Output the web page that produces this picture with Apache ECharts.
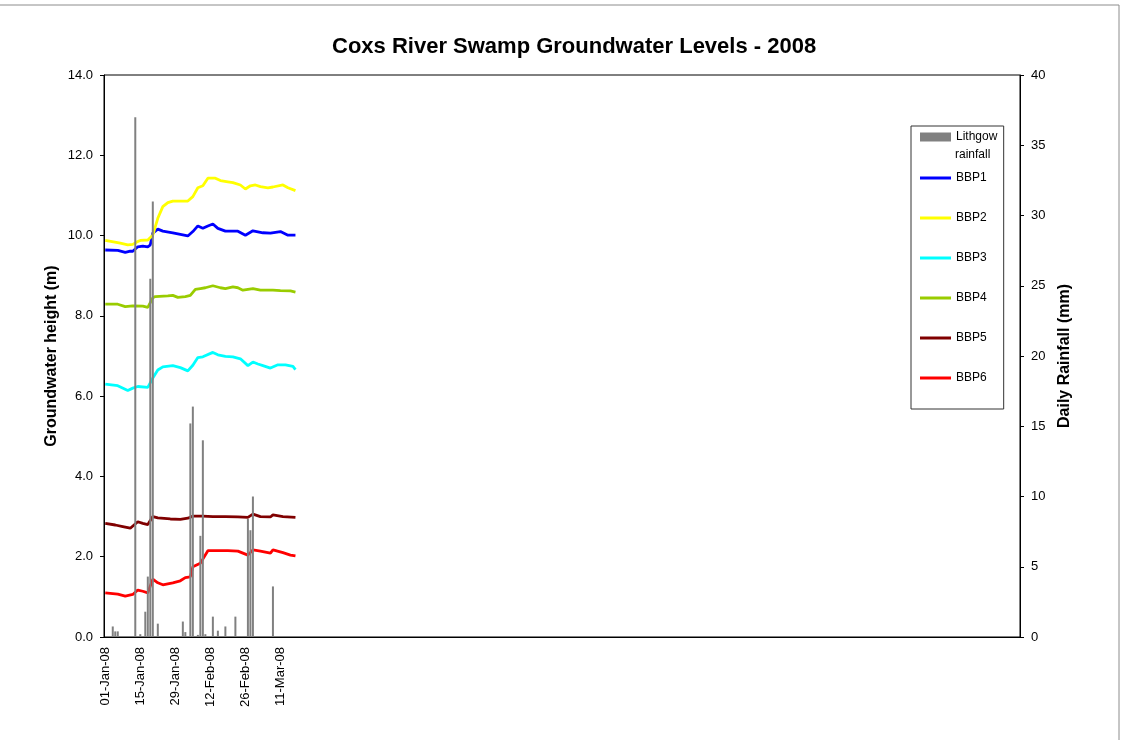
<!DOCTYPE html>
<html>
<head>
<meta charset="utf-8">
<script src="https://cdn.jsdelivr.net/npm/echarts@6/dist/echarts.min.js"></script>
<style>
html,body{margin:0;padding:0;background:#fff;}
#c{width:1123px;height:740px;}
</style>
</head>
<body>
<div id="c"></div>
<script>
// ---- DATA ----
// day offsets from 01-Jan-2008 and values
const xTickLabels = ['01-Jan-08','15-Jan-08','29-Jan-08','12-Feb-08','26-Feb-08','11-Mar-08'];

const rainDays = [3,4,5,12,14,16,17,18,19,21,31,32,34,35,37,38,39,40,43,45,48,52,57,58,59,67];
const rainMm   = [0.75,0.4,0.4,37.0,0.2,1.8,4.3,25.5,31.0,0.95,1.1,0.35,15.2,16.4,0.15,7.2,14.0,0.2,1.45,0.45,0.75,1.45,8.4,7.6,10.0,3.6];

const BBP1 = [[0,9.64],[5,9.63],[8,9.58],[10,9.61],[11,9.61],[13,9.72],[15,9.74],[17,9.72],[18,9.77],[19,10.06],[21,10.16],[23,10.11],[27,10.07],[30,10.03],[33,9.99],[35,10.10],[37,10.24],[39,10.18],[41,10.24],[43,10.29],[45,10.18],[48,10.11],[53,10.11],[56,10.01],[59,10.12],[63,10.07],[66,10.06],[70,10.10],[73,10.01],[76,10.01]];
const BBP2 = [[0,9.88],[6,9.81],[9,9.77],[11,9.78],[13,9.85],[14,9.88],[17,9.89],[19,10.01],[21,10.43],[23,10.72],[25,10.82],[27,10.86],[33,10.86],[35,10.97],[37,11.19],[39,11.24],[41,11.43],[44,11.43],[46,11.37],[49,11.34],[51,11.32],[54,11.26],[56,11.16],[58,11.24],[60,11.26],[62,11.22],[65,11.19],[67,11.21],[71,11.26],[73,11.19],[76,11.12]];
const BBP3 = [[0,6.30],[5,6.26],[9,6.14],[11,6.20],[13,6.24],[17,6.22],[19,6.45],[21,6.65],[23,6.73],[27,6.76],[30,6.71],[33,6.63],[35,6.77],[37,6.96],[39,6.98],[43,7.09],[45,7.03],[48,6.99],[51,6.98],[54,6.93],[57,6.76],[59,6.85],[61,6.80],[63,6.76],[66,6.70],[69,6.78],[72,6.78],[75,6.74],[76,6.66]];
const BBP4 = [[0,8.29],[5,8.29],[8,8.23],[11,8.25],[15,8.24],[17,8.21],[19,8.45],[20,8.48],[25,8.50],[27,8.51],[29,8.46],[32,8.48],[34,8.51],[36,8.66],[38,8.68],[40,8.70],[43,8.75],[46,8.70],[48,8.68],[51,8.72],[53,8.70],[55,8.64],[59,8.68],[62,8.64],[67,8.64],[70,8.63],[74,8.62],[76,8.59]];
const BBP5 = [[0,2.83],[4,2.79],[7,2.75],[10,2.71],[13,2.87],[15,2.83],[17,2.80],[19,3.00],[21,2.97],[26,2.94],[30,2.93],[33,2.96],[35,3.01],[39,3.01],[43,3.00],[48,3.00],[53,2.99],[57,2.98],[59,3.06],[62,3.00],[66,2.99],[67,3.04],[71,3.00],[76,2.98]];
const BBP6 = [[0,1.10],[5,1.07],[8,1.02],[11,1.06],[13,1.17],[15,1.14],[17,1.10],[19,1.44],[21,1.35],[23,1.30],[27,1.35],[30,1.40],[32,1.48],[34,1.50],[35,1.75],[38,1.84],[39,1.94],[41,2.15],[44,2.15],[49,2.15],[53,2.14],[57,2.04],[59,2.17],[62,2.14],[66,2.09],[67,2.17],[71,2.10],[74,2.04],[76,2.02]];

// ---- build categories (every day of 2008) ----
const MON = ['Jan','Feb','Mar','Apr','May','Jun','Jul','Aug','Sep','Oct','Nov','Dec'];
const cats = [];
for (let d = new Date(Date.UTC(2008,0,1)); d.getUTCFullYear() === 2008; d.setUTCDate(d.getUTCDate()+1)) {
  const dd = String(d.getUTCDate()).padStart(2,'0');
  cats.push(dd + '-' + MON[d.getUTCMonth()] + '-08');
}
const rainData = cats.map(() => 0);
rainDays.forEach((d, i) => { rainData[d] = rainMm[i]; });
const toPairs = arr => arr.map(p => [cats[p[0]], p[1]]);

const NARROW = "'Liberation Sans Narrow','Arial Narrow','Liberation Sans',Arial,sans-serif";
const SANS = "'Liberation Sans',Arial,sans-serif";

const lineSeries = (name, data, color) => ({
  name, type: 'line', data: toPairs(data), yAxisIndex: 0,
  symbol: 'none', showSymbol: false, z: 2,
  lineStyle: { color, width: 2.8 }, itemStyle: { color },
  animation: false
});

const chart = echarts.init(document.getElementById('c'), null, { renderer: 'canvas' });
chart.setOption({
  animation: false,
  backgroundColor: '#fff',
  title: {
    text: 'Coxs River Swamp Groundwater Levels - 2008',
    left: 332, top: 36, padding: 0,
    textStyle: { fontFamily: NARROW, fontSize: 22, fontWeight: 'bold', color: '#000' }
  },
  grid: { left: 104, right: 103, top: 75, bottom: 103, show: true, borderColor: '#000', borderWidth: 1, backgroundColor: 'transparent' },
  graphic: [
    { type: 'rect', silent: true, z: -10, shape: { x: -2, y: 5, width: 1121, height: 800 },
      style: { fill: 'none', stroke: '#8c8c8c', lineWidth: 1 } },
    { type: 'text', silent: true, z: 100, x: 955, y: 155,
      style: { text: 'rainfall', fill: '#000', font: "12px " + NARROW, verticalAlign: 'middle', align: 'left' } }
  ],
  legend: [
    {
      data: ['Lithgow rainfall'], orient: 'vertical', left: 920, top: 130, padding: 0, z: 5,
      itemWidth: 31, itemHeight: 9, icon: 'rect',
      formatter: () => 'Lithgow',
      textStyle: { fontFamily: NARROW, fontSize: 12, color: '#000', lineHeight: 14 }
    },
    {
      data: ['BBP1','BBP2','BBP3','BBP4','BBP5','BBP6'], orient: 'vertical', left: 911, top: 126,
      padding: [45, 17, 24, 9], itemGap: 26, itemWidth: 31, itemHeight: 3, icon: 'rect', z: 4,
      backgroundColor: '#fff', borderColor: '#333', borderWidth: 1,
      textStyle: { fontFamily: NARROW, fontSize: 12, color: '#000', lineHeight: 14 }
    }
  ],
  xAxis: {
    type: 'category', data: cats, boundaryGap: true,
    axisLine: { lineStyle: { color: '#000', width: 1 } },
    axisTick: { show: false },
    axisLabel: {
      rotate: 90, margin: 10, fontFamily: SANS, fontSize: 13, color: '#000',
      interval: (i, v) => xTickLabels.indexOf(v) >= 0
    },
    splitLine: { show: false }
  },
  yAxis: [
    {
      type: 'value', min: 0, max: 14, interval: 2, position: 'left',
      name: 'Groundwater height (m)', nameLocation: 'middle', nameGap: 44, nameRotate: 90, nameMoveOverlap: false,
      nameTextStyle: { fontFamily: SANS, fontSize: 16, fontWeight: 'bold', color: '#000' },
      axisLine: { show: true, lineStyle: { color: '#000' } },
      axisTick: { show: true, length: 4, lineStyle: { color: '#000' } },
      axisLabel: { fontFamily: SANS, fontSize: 13, color: '#000', margin: 11, formatter: v => v.toFixed(1) },
      splitLine: { show: false }
    },
    {
      type: 'value', min: 0, max: 40, interval: 5, position: 'right',
      name: 'Daily Rainfall (mm)', nameLocation: 'middle', nameGap: 37, nameRotate: 90, nameMoveOverlap: false,
      nameTextStyle: { fontFamily: SANS, fontSize: 16, fontWeight: 'bold', color: '#000' },
      axisLine: { show: true, lineStyle: { color: '#000' } },
      axisTick: { show: true, length: 4, lineStyle: { color: '#000' } },
      axisLabel: { fontFamily: SANS, fontSize: 13, color: '#000', margin: 11 },
      splitLine: { show: false }
    }
  ],
  series: [
    {
      name: 'Lithgow rainfall', type: 'bar', yAxisIndex: 1, data: rainData,
      barWidth: 2, z: 3, itemStyle: { color: '#808080' }, animation: false
    },
    lineSeries('BBP1', BBP1, '#0000FF'),
    lineSeries('BBP2', BBP2, '#FFFF00'),
    lineSeries('BBP3', BBP3, '#00FFFF'),
    lineSeries('BBP4', BBP4, '#99CC00'),
    lineSeries('BBP5', BBP5, '#800000'),
    lineSeries('BBP6', BBP6, '#FF0000')
  ]
});
</script>
</body>
</html>
